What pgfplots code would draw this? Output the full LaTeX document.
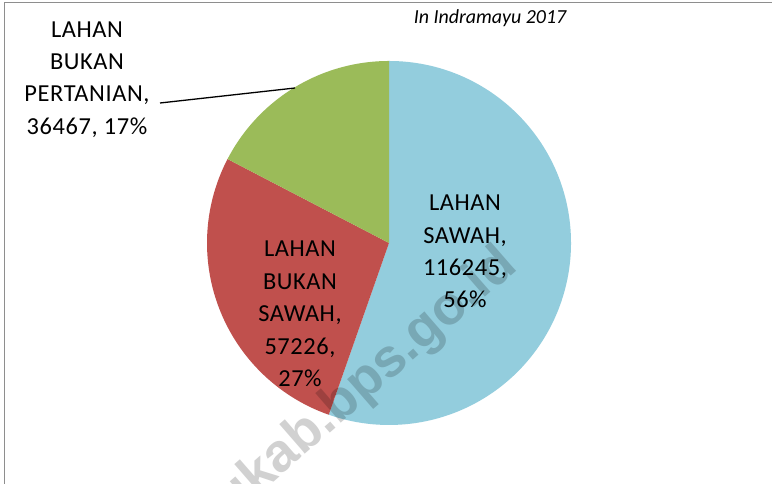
\documentclass[border=0pt]{standalone}
\usepackage{pgfplots}
\pgfplotsset{compat=1.18}
\usepackage{pgfplotstable}
\usepackage{fontspec}
\setmainfont{Carlito}
\newfontfamily\lblfont{Carlito}[LetterSpace=2.5]
\newfontfamily\wmfont{Liberation Sans}
\definecolor{sblue}{HTML}{93CDDD}
\definecolor{sred}{HTML}{C0504D}
\definecolor{sgreen}{HTML}{9BBB59}
\definecolor{framegray}{HTML}{8E8E8E}
\pgfplotstableread{
label value
sawah 116245
bukansawah 57226
bukanpertanian 36467
}\piedata
\begin{document}
\begin{tikzpicture}[x=1bp,y=1bp]
\path[use as bounding box] (0,0) rectangle (772,484);
\clip (0,0) rectangle (772,484);
\fill[white] (0,0) rectangle (772,484);
\pgfplotstablegetelem{0}{value}\of\piedata \edef\va{\pgfplotsretval}
\pgfplotstablegetelem{1}{value}\of\piedata \edef\vb{\pgfplotsretval}
\pgfplotstablegetelem{2}{value}\of\piedata \edef\vc{\pgfplotsretval}
\edef\tot{\fpeval{\va+\vb+\vc}}
\edef\aA{\fpeval{round(90-360*\va/\tot,4)}}
\edef\aB{\fpeval{round(\aA-360*\vb/\tot,4)}}
\begin{axis}[hide axis, scale only axis, width=364bp, height=364bp,
  xmin=-1, xmax=1, ymin=-1, ymax=1, at={(389bp,241bp)}, anchor=center]
\fill[sblue] (axis cs:0,0) -- ++(90:182bp) arc[start angle=90, end angle=\aA, radius=182bp] -- cycle;
\fill[sred] (axis cs:0,0) -- ++(\aA:182bp) arc[start angle=\aA, end angle=\aB, radius=182bp] -- cycle;
\fill[sgreen] (axis cs:0,0) -- ++(\aB:182bp) arc[start angle=\aB, end angle=-270, radius=182bp] -- cycle;
\end{axis}
% watermark
\node[rotate=41, anchor=east, inner sep=0pt, font=\wmfont\bfseries\fontsize{54}{60}\selectfont, text=black, text opacity=0.18] at (510,226) {indramayukab.bps.go.id};
% frame
\draw[framegray, line width=1.6bp] (4.6,0) -- (4.6,481.4) -- (772,481.4);
% title
\node[anchor=base, font=\itshape\fontsize{20}{24}\selectfont] at (490,460) {In Indramayu 2017};
% labels
\tikzset{lbl/.style={anchor=base, inner sep=0pt, font=\lblfont\fontsize{24.5}{28}\selectfont}}
\node[lbl] at (465,273) {LAHAN};
\node[lbl] at (465,240.7) {SAWAH,};
\node[lbl] at (465,208.4) {116245,};
\node[lbl] at (465,176.1) {56\%};
\node[lbl] at (300,227) {LAHAN};
\node[lbl] at (300,194.5) {BUKAN};
\node[lbl] at (300,162) {SAWAH,};
\node[lbl] at (300,129.5) {57226,};
\node[lbl] at (300,97) {27\%};
\node[lbl] at (87,446) {LAHAN};
\node[lbl] at (87,414) {BUKAN};
\node[lbl] at (87,382) {PERTANIAN,};
\node[lbl] at (87,349) {36467, 17\%};
\draw[black, line width=1.3bp] (160,381) -- (295,396);
\end{tikzpicture}
\end{document}
